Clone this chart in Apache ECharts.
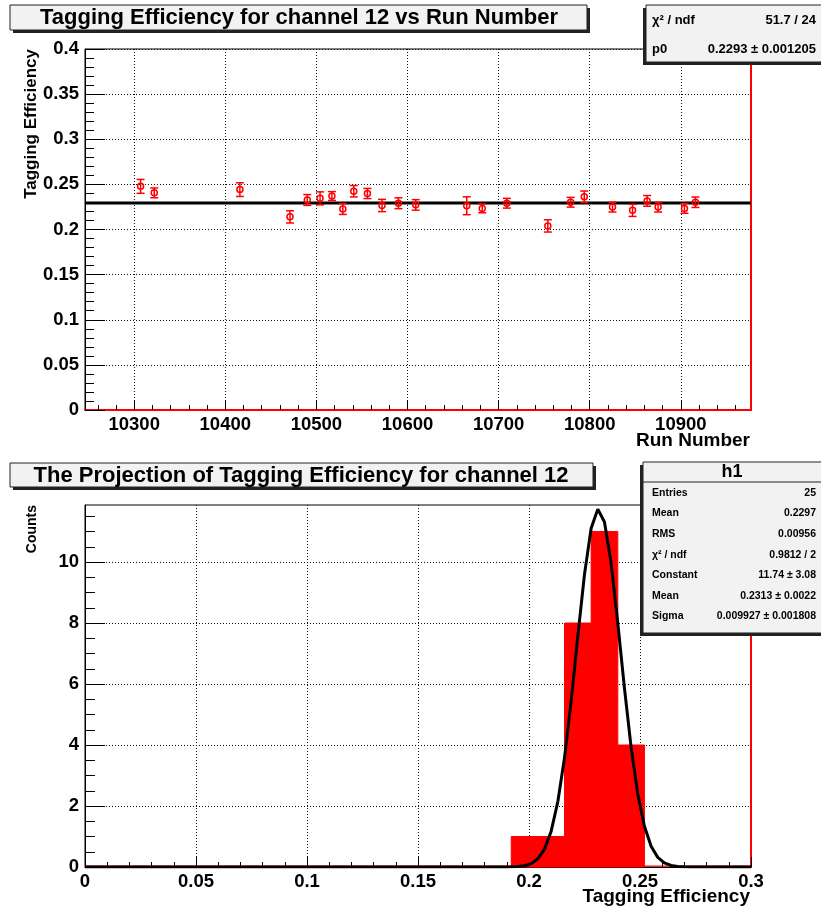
<!DOCTYPE html>
<html>
<head>
<meta charset="utf-8">
<script src="https://cdn.jsdelivr.net/npm/echarts@6/dist/echarts.min.js"></script>
<style>
  html, body { margin: 0; padding: 0; background: #ffffff; }
  #chart { width: 821px; height: 910px; }
</style>
</head>
<body>
<div id="chart"></div>
<script>
// ---- Run-by-run tagging efficiency, channel 12 ----
const runNumbers = [10307, 10322, 10416, 10471, 10490, 10504, 10517, 10529, 10541, 10556,
                    10572, 10590, 10609, 10665, 10682, 10709, 10754, 10779, 10794, 10825,
                    10847, 10863, 10875, 10904, 10916];
const efficiency = [0.2478, 0.2406, 0.2442, 0.2140, 0.2327, 0.2345, 0.2371, 0.2227, 0.2424, 0.2399,
                    0.2266, 0.2291, 0.2273, 0.2263, 0.2234, 0.2291, 0.2040, 0.2302, 0.2363, 0.2248,
                    0.2212, 0.2317, 0.2248, 0.2234, 0.2302];
const efficiencyErr = [0.0077, 0.0054, 0.0076, 0.0068, 0.0060, 0.0072, 0.0049, 0.0060, 0.0063, 0.0056,
                       0.0068, 0.0060, 0.0058, 0.0099, 0.0049, 0.0054, 0.0068, 0.0054, 0.0063, 0.0054,
                       0.0067, 0.0059, 0.0054, 0.0054, 0.0058];
const fitP0 = 0.2293;            // pol0 fit result
const runTicks = [10300, 10400, 10500, 10600, 10700, 10800, 10900];

// ---- Projection histogram h1: 25 bins over [0, 0.3] ----
const histMin = 0;
const histMax = 0.3;
const histCounts = [0, 0, 0, 0, 0, 0, 0, 0, 0, 0, 0, 0, 0, 0, 0, 0, 1, 1, 8, 11, 4, 0, 0, 0, 0];
const gausConstant = 11.74;      // gaus fit result
const gausMean = 0.2313;
const gausSigma = 0.009927;
const countTicks = [0, 2, 4, 6, 8, 10];

// stat box texts
const fitStats = [['\u03c7\u00b2 / ndf', '51.7 / 24'], ['p0', '0.2293 \u00b1 0.001205']];
const histStats = [['Entries', '25'], ['Mean', '0.2297'], ['RMS', '0.00956'],
                   ['\u03c7\u00b2 / ndf', '0.9812 / 2'], ['Constant', '11.74 \u00b1 3.08'],
                   ['Mean', '0.2313 \u00b1 0.0022'], ['Sigma', '0.009927 \u00b1 0.001808']];

// ---- frame ranges ----
const runMin = 10246, runMax = 10977;
const effMax = 0.4;
const countMax = 11.87;

const FONT = '"Liberation Sans", Arial, Helvetica, sans-serif';
const RED = '#ff0000';

function steps(a, b, s) {
  const out = [];
  for (let v = a; v <= b + s * 1e-6; v += s) out.push(Math.round(v * 1e6) / 1e6);
  return out;
}
const runMinorTicks = steps(10260, 10960, 20).filter(v => v % 100 !== 0);
const countMinorTicks = steps(0.5, 11.5, 0.5).filter(v => v % 2 !== 0);

const binWidth = (histMax - histMin) / histCounts.length;
const histData = histCounts.map((c, i) => [histMin + i * binWidth, histMin + (i + 1) * binWidth, c]);

// fitted gaussian drawn with 100 segments across the histogram range
const gausCurve = [];
for (let i = 0; i <= 100; i++) {
  const x = histMin + (histMax - histMin) * i / 100;
  gausCurve.push([x, gausConstant * Math.exp(-0.5 * Math.pow((x - gausMean) / gausSigma, 2))]);
}

const gridDots = { color: '#111', width: 1, type: [1, 2] };
const plainNumber = v => String(Math.round(v * 1e6) / 1e6);
const labelFont = { fontFamily: FONT, fontWeight: 'bold', fontSize: 18.5, color: '#000', formatter: plainNumber };
const tickStyle = { color: '#000', width: 1 };

function tickOnlyAxis(extra) {
  return Object.assign({
    type: 'value',
    axisLine: { show: false, onZero: false },
    axisLabel: { show: false },
    splitLine: { show: false },
    axisTick: { show: true, inside: true, lineStyle: tickStyle }
  }, extra);
}

const chart = echarts.init(document.getElementById('chart'), null, { renderer: 'canvas' });

const option = {
  backgroundColor: '#ffffff',
  animation: false,
  grid: [
    { left: 85, top: 49, width: 666, height: 361, show: true, backgroundColor: '#fff',
      borderColor: '#000', borderWidth: 1, containLabel: false, outerBoundsMode: 'none' },
    { left: 85, top: 505, width: 666, height: 362, show: true, backgroundColor: '#fff',
      borderColor: '#000', borderWidth: 1, containLabel: false, outerBoundsMode: 'none' }
  ],
  xAxis: [
    { // run number
      type: 'value', gridIndex: 0, position: 'bottom', min: runMin, max: runMax,
      axisLine: { show: true, onZero: false, lineStyle: { color: RED, width: 2 } },
      axisTick: { show: true, inside: true, length: 10, lineStyle: tickStyle, customValues: runTicks },
      axisLabel: Object.assign({ margin: 5, customValues: runTicks }, labelFont),
      splitLine: { show: true, lineStyle: gridDots }
    },
    tickOnlyAxis({ gridIndex: 0, position: 'bottom', min: runMin, max: runMax,
      axisTick: { show: true, inside: true, length: 5, lineStyle: tickStyle, customValues: runMinorTicks } }),
    { // tagging efficiency (projection)
      type: 'value', gridIndex: 1, position: 'bottom', min: histMin, max: histMax, interval: 0.05,
      axisLine: { show: true, onZero: false, lineStyle: { color: '#000', width: 1 } },
      axisTick: { show: true, inside: true, length: 10, lineStyle: tickStyle },
      minorTick: { show: true, splitNumber: 5, length: 5, lineStyle: tickStyle },
      axisLabel: Object.assign({ margin: 5 }, labelFont),
      splitLine: { show: true, lineStyle: gridDots }
    }
  ],
  yAxis: [
    { // tagging efficiency
      type: 'value', gridIndex: 0, position: 'left', min: 0, max: effMax, interval: 0.05,
      axisLine: { show: true, onZero: false, lineStyle: { color: '#000', width: 1 } },
      axisTick: { show: true, inside: true, length: 20, lineStyle: tickStyle },
      minorTick: { show: true, splitNumber: 5, length: 9, lineStyle: tickStyle },
      axisLabel: Object.assign({ margin: 6 }, labelFont),
      splitLine: { show: true, lineStyle: gridDots }
    },
    { // right frame edge
      type: 'value', gridIndex: 0, position: 'right', min: 0, max: effMax,
      axisLine: { show: true, onZero: false, lineStyle: { color: RED, width: 2 } },
      axisTick: { show: false }, axisLabel: { show: false }, splitLine: { show: false }
    },
    { // counts
      type: 'value', gridIndex: 1, position: 'left', min: 0, max: countMax,
      axisLine: { show: true, onZero: false, lineStyle: { color: '#000', width: 1 } },
      axisTick: { show: true, inside: true, length: 20, lineStyle: tickStyle, customValues: countTicks },
      axisLabel: Object.assign({ margin: 6, customValues: countTicks }, labelFont),
      splitLine: { show: true, lineStyle: gridDots }
    },
    tickOnlyAxis({ gridIndex: 1, position: 'left', min: 0, max: countMax,
      axisTick: { show: true, inside: true, length: 10, lineStyle: tickStyle, customValues: countMinorTicks } }),
    { // right frame edge
      type: 'value', gridIndex: 1, position: 'right', min: 0, max: countMax,
      axisLine: { show: true, onZero: false, lineStyle: { color: RED, width: 2 } },
      axisTick: { show: false }, axisLabel: { show: false }, splitLine: { show: false }
    }
  ],
  series: [
    { // constant fit across the run range
      type: 'line', xAxisIndex: 0, yAxisIndex: 0, z: 2,
      data: [[runMin, fitP0], [runMax, fitP0]],
      symbol: 'none', lineStyle: { color: '#000', width: 3 }, silent: true
    },
    { // efficiency per run with error bars
      type: 'custom', xAxisIndex: 0, yAxisIndex: 0, z: 3,
      data: runNumbers.map((r, i) => [r, efficiency[i], efficiencyErr[i]]),
      encode: { x: 0, y: 1 },
      renderItem: function (params, api) {
        const x = api.value(0), y = api.value(1), e = api.value(2);
        const hi = api.coord([x, y + e]);
        const lo = api.coord([x, y - e]);
        const c = api.coord([x, y]);
        const cap = 4;
        const st = { stroke: RED, lineWidth: 1.5, fill: null };
        return {
          type: 'group',
          children: [
            { type: 'line', shape: { x1: hi[0], y1: hi[1], x2: lo[0], y2: lo[1] }, style: st },
            { type: 'line', shape: { x1: hi[0] - cap, y1: hi[1], x2: hi[0] + cap, y2: hi[1] }, style: st },
            { type: 'line', shape: { x1: lo[0] - cap, y1: lo[1], x2: lo[0] + cap, y2: lo[1] }, style: st },
            { type: 'circle', shape: { cx: c[0], cy: c[1], r: 3 }, style: { stroke: RED, lineWidth: 1.5, fill: 'transparent' } }
          ]
        };
      }
    },
    { // histogram bins
      type: 'custom', xAxisIndex: 2, yAxisIndex: 2, z: 2,
      data: histData,
      encode: { x: [0, 1], y: 2 },
      renderItem: function (params, api) {
        const x0 = api.value(0), x1 = api.value(1), n = api.value(2);
        const a = api.coord([x0, n]);
        const b = api.coord([x1, 0]);
        if (n > 0) {
          return { type: 'rect', shape: { x: a[0], y: a[1], width: b[0] - a[0], height: b[1] - a[1] },
                   style: { fill: RED, stroke: RED, lineWidth: 1 } };
        }
        return { type: 'line', shape: { x1: a[0], y1: b[1] - 1, x2: b[0], y2: b[1] - 1 },
                 style: { stroke: RED, lineWidth: 1 } };
      }
    },
    { // gaussian fit
      type: 'line', xAxisIndex: 2, yAxisIndex: 2, z: 3,
      data: gausCurve, symbol: 'none', smooth: false,
      lineStyle: { color: '#000', width: 3 }, silent: true
    }
  ],
  graphic: {
    elements: [
      // title boxes
      { type: 'rect', z: 100, shape: { x: 13, y: 8, width: 577, height: 25 }, style: { fill: '#222' } },
      { type: 'rect', z: 101, shape: { x: 10, y: 5, width: 577, height: 25 }, style: { fill: '#f2f2f2', stroke: '#222', lineWidth: 1 } },
      { type: 'text', z: 102, x: 299, y: 18,
        style: { text: 'Tagging Efficiency for channel 12 vs Run Number', font: 'bold 22px ' + FONT, fill: '#000', align: 'center', verticalAlign: 'middle' } },
      { type: 'rect', z: 100, shape: { x: 13, y: 466, width: 583, height: 24 }, style: { fill: '#222' } },
      { type: 'rect', z: 101, shape: { x: 10, y: 463, width: 583, height: 24 }, style: { fill: '#f2f2f2', stroke: '#222', lineWidth: 1 } },
      { type: 'text', z: 102, x: 301, y: 476,
        style: { text: 'The Projection of Tagging Efficiency for channel 12', font: 'bold 22px ' + FONT, fill: '#000', align: 'center', verticalAlign: 'middle' } },

      // fit statistics box (upper pad)
      { type: 'rect', z: 100, shape: { x: 643, y: 8, width: 190, height: 57 }, style: { fill: '#222' } },
      { type: 'rect', z: 101, shape: { x: 646, y: 5, width: 190, height: 57 }, style: { fill: '#f2f2f2', stroke: '#222', lineWidth: 1 } },
      ...fitStats.flatMap((row, i) => [
        { type: 'text', z: 102, x: 652, y: 20 + i * 29,
          style: { text: row[0], font: 'bold 13px ' + FONT, fill: '#000', align: 'left', verticalAlign: 'middle' } },
        { type: 'text', z: 102, x: 816, y: 20 + i * 29,
          style: { text: row[1], font: 'bold 13px ' + FONT, fill: '#000', align: 'right', verticalAlign: 'middle' } }
      ]),

      // h1 statistics box (lower pad)
      { type: 'rect', z: 100, shape: { x: 640, y: 465, width: 190, height: 171 }, style: { fill: '#222' } },
      { type: 'rect', z: 101, shape: { x: 643, y: 462, width: 190, height: 171 }, style: { fill: '#f2f2f2', stroke: '#222', lineWidth: 1 } },
      { type: 'line', z: 102, shape: { x1: 643, y1: 482, x2: 821, y2: 482 }, style: { stroke: '#222', lineWidth: 1 } },
      { type: 'text', z: 102, x: 732, y: 472,
        style: { text: 'h1', font: 'bold 18px ' + FONT, fill: '#000', align: 'center', verticalAlign: 'middle' } },
      ...histStats.flatMap((row, i) => [
        { type: 'text', z: 102, x: 652, y: 493 + i * 20.6,
          style: { text: row[0], font: 'bold 10.5px ' + FONT, fill: '#000', align: 'left', verticalAlign: 'middle' } },
        { type: 'text', z: 102, x: 816, y: 493 + i * 20.6,
          style: { text: row[1], font: 'bold 10.5px ' + FONT, fill: '#000', align: 'right', verticalAlign: 'middle' } }
      ]),

      // axis titles
      { type: 'text', z: 50, x: 31, y: 49, rotation: Math.PI / 2,
        style: { text: 'Tagging Efficiency', font: 'bold 17px ' + FONT, fill: '#000', align: 'right', verticalAlign: 'middle' } },
      { type: 'text', z: 50, x: 750, y: 441,
        style: { text: 'Run Number', font: 'bold 19px ' + FONT, fill: '#000', align: 'right', verticalAlign: 'middle' } },
      { type: 'text', z: 50, x: 32, y: 505, rotation: Math.PI / 2,
        style: { text: 'Counts', font: 'bold 14px ' + FONT, fill: '#000', align: 'right', verticalAlign: 'middle' } },
      { type: 'text', z: 50, x: 750, y: 897,
        style: { text: 'Tagging Efficiency', font: 'bold 19px ' + FONT, fill: '#000', align: 'right', verticalAlign: 'middle' } }
    ]
  }
};

chart.setOption(option);
</script>
</body>
</html>
